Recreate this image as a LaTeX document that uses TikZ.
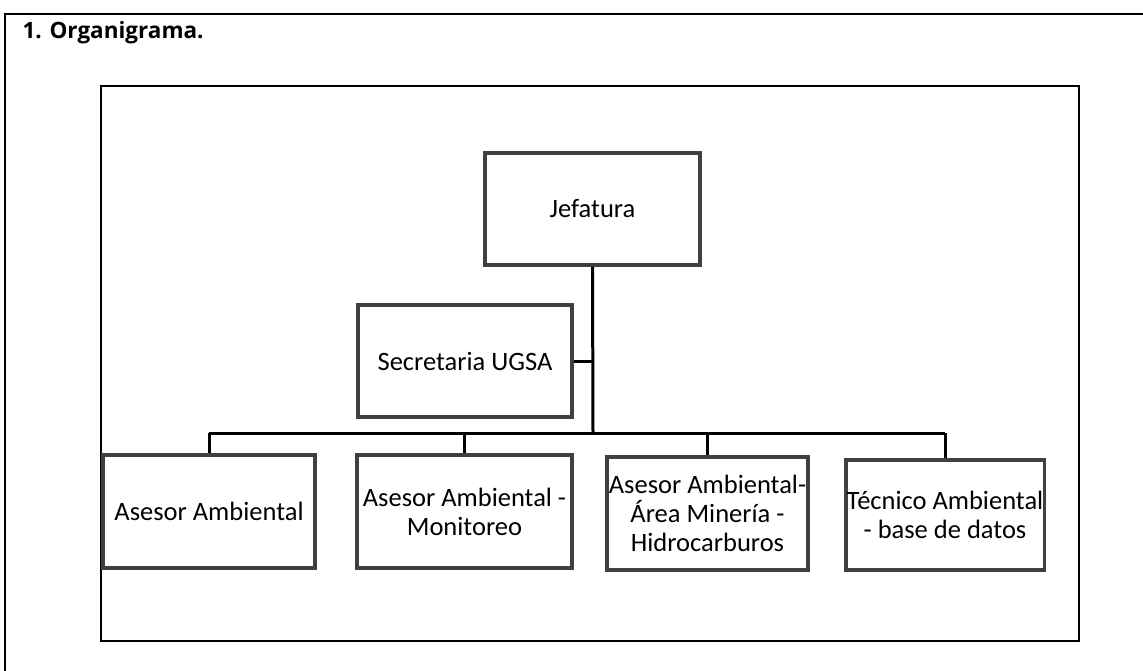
\documentclass[tikz,border=0pt]{standalone}
\usepackage{fontspec}
\setmainfont{Carlito}
\newfontfamily\titulofont{Open Sans}
\usetikzlibrary{positioning}

\begin{document}
\begin{tikzpicture}
  [x=1pt, y=-1pt,
  cargo/.style={draw=black!75, line width=3.6pt, fill=white, align=center,
    font=\fontsize{26.5}{29}\selectfont, inner sep=1pt},
  rama/.style={line width=3pt},
  marco/.style={line width=2.4pt}]
\useasboundingbox (0,0) rectangle (1143,671);
\draw [marco] (5,671) -- (5,14) -- (1143,14);
\node [anchor=base west, font=\titulofont\bfseries\fontsize{22.5}{26}\selectfont] (titulo) at (19,39) {1. Organigrama.};
\draw [marco] (101,86) rectangle (1079,641);
\node [cargo, minimum width=215pt, minimum height=112pt] (jefe) at (592.5,209) {Jefatura};
\node [cargo, minimum width=214pt, minimum height=112pt] (secre) at (465,361) {Secretaria UGSA};
\node [cargo, minimum width=212pt, minimum height=113pt] (a1) at (209,511.5) {Asesor Ambiental};
\node [cargo, minimum width=215pt, minimum height=113pt] (a2) at (464.5,511.5) {Asesor Ambiental -\\Monitoreo};
\node [cargo, minimum width=201pt, minimum height=113pt] (a3) at (707.5,513.5) {Asesor Ambiental-\\Área Minería -\\Hidrocarburos};
\node [cargo, minimum width=196pt, minimum height=110pt] (a4) at (945,515) {Técnico Ambiental\\- base de datos};
\coordinate (bus) at (593,433);
\draw [rama] (jefe.south) -- (bus);
\draw [rama] (secre.east) -- (secre.east -| bus);
\draw [rama] (a1.north |- bus) -- (a4.north |- bus);
\foreach \n in {a1,a2,a3,a4}
  \draw [rama] (\n.north |- bus) -- (\n.north);
\end{tikzpicture}
\end{document}
